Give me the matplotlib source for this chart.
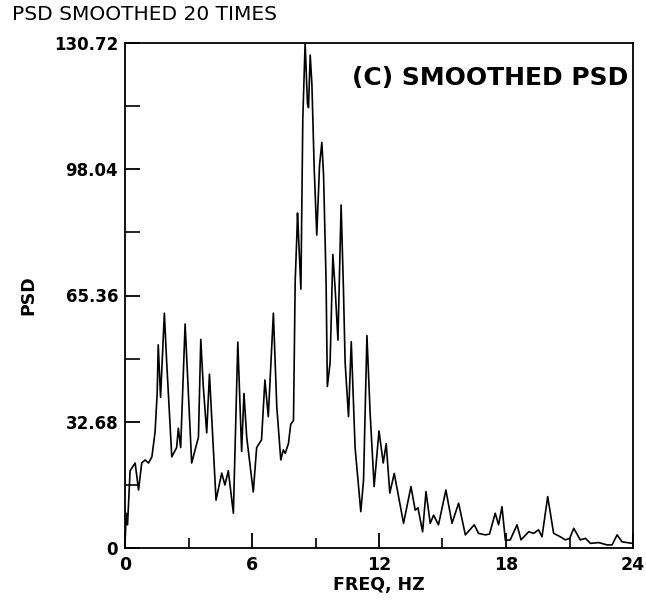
import matplotlib
matplotlib.use("Agg")
import matplotlib.pyplot as plt
from matplotlib.ticker import FixedLocator

freq_hz = [0.00, 0.06, 0.12, 0.24, 0.48, 0.64, 0.79, 0.95, 1.11, 1.27, 1.42, 1.52, 1.57,
           1.68, 1.86, 1.97, 2.21, 2.44, 2.52, 2.63, 2.84, 3.15, 3.47, 3.58, 3.70, 3.86,
           3.99, 4.30, 4.57, 4.72, 4.88, 5.12, 5.33, 5.51, 5.62, 5.75, 6.06, 6.22, 6.45,
           6.61, 6.77, 7.01, 7.17, 7.36, 7.48, 7.57, 7.72, 7.83, 7.96, 8.04, 8.12, 8.15,
           8.31, 8.40, 8.51, 8.62, 8.67, 8.75, 8.83, 8.94, 9.06, 9.19, 9.30, 9.38, 9.50,
           9.56, 9.69, 9.82, 9.93, 10.06, 10.21, 10.32, 10.40, 10.56, 10.69, 10.72, 10.87,
           11.14, 11.27, 11.43, 11.58, 11.77, 12.00, 12.20, 12.34, 12.51, 12.72, 13.16,
           13.51, 13.71, 13.84, 14.06, 14.22, 14.42, 14.58, 14.81, 15.16, 15.45, 15.76,
           16.08, 16.50, 16.70, 17.02, 17.22, 17.49, 17.65, 17.81, 17.97, 18.20, 18.52,
           18.71, 19.07, 19.31, 19.54, 19.70, 19.97, 20.25, 20.57, 20.80, 21.01, 21.20,
           21.51, 21.75, 21.99, 22.38, 22.78, 23.01, 23.25, 23.48, 23.72, 23.96, 24.00]
psd = [1.0, 9.0, 6.0, 20.0, 22.0, 15.0, 22.0, 22.8, 22.0, 23.6, 30.0, 40.0, 52.6,
       39.0, 60.8, 48.0, 23.6, 26.0, 31.0, 26.0, 58.0, 22.0, 28.7, 54.0, 41.7, 29.8,
       45.0, 12.4, 19.4, 16.3, 20.0, 9.0, 53.3, 25.0, 40.0, 28.7, 14.5, 26.0, 28.0,
       43.5, 34.0, 60.8, 36.6, 22.8, 25.4, 24.5, 27.0, 32.0, 33.0, 69.0, 81.0, 86.7,
       67.0, 111.0, 130.72, 115.0, 114.0, 127.6, 120.0, 98.0, 81.0, 99.0, 105.0, 96.6, 69.0,
       41.8, 48.0, 76.0, 67.0, 53.8, 88.8, 67.0, 48.0, 34.0, 53.4, 48.7, 26.0,
       9.4, 17.6, 55.0, 35.0, 15.9, 30.3, 22.0, 27.0, 14.2, 19.3, 6.4,
       15.9, 9.8, 10.4, 4.2, 14.6, 6.4, 8.5, 6.0, 15.0, 6.4, 11.6,
       3.4, 6.0, 3.8, 3.4, 3.6, 9.0, 6.0, 10.7, 2.0, 2.1, 6.0,
       2.1, 4.2, 3.8, 4.7, 2.9, 13.3, 3.8, 2.9, 2.1, 2.5, 5.1,
       2.1, 2.5, 1.2, 1.4, 0.8, 0.8, 3.4, 1.6, 1.4, 1.2, 1.2]

x_major = [0, 6, 12, 18, 24]
x_minor = [3, 9, 15, 21]
y_major = [0, 32.68, 65.36, 98.04, 130.72]
y_minor = [16.34, 49.02, 81.70, 114.38]
y_labels = ["0", "32.68", "65.36", "98.04", "130.72"]

plt.rcParams['font.family'] = ['DejaVu Sans']

fig = plt.figure(figsize=(6.46, 6.02), dpi=100)
ax = fig.add_axes([125/646, 54/602, 508/646, 505/602])
ax.plot(freq_hz, psd, color='black', lw=1.2)
ax.set_xlim(0, 24)
ax.set_ylim(0, 130.72)

ax.xaxis.set_major_locator(FixedLocator(x_major))
ax.xaxis.set_minor_locator(FixedLocator(x_minor))
ax.yaxis.set_major_locator(FixedLocator(y_major))
ax.yaxis.set_minor_locator(FixedLocator(y_minor))
ax.set_xticklabels([str(v) for v in x_major], fontweight='bold', fontsize=12.5)
ax.set_yticklabels(y_labels, fontweight='bold', fontsize=12)
ax.tick_params(axis='both', which='major', direction='in', length=11, width=1.3)
ax.tick_params(axis='y', which='major', pad=5)
ax.tick_params(axis='x', which='major', pad=6)
ax.tick_params(axis='x', which='minor', direction='in', length=7, width=1.2)
ax.tick_params(axis='y', which='minor', direction='in', length=11, width=1.2)
for s in ax.spines.values():
    s.set_linewidth(1.3)

ax.set_xlabel("FREQ, HZ", fontweight='bold', fontsize=12.5, labelpad=1)
ax.set_ylabel("PSD", fontweight='bold', fontsize=12.5, labelpad=12)
ax.text(0.99, 0.93, "(C) SMOOTHED PSD", transform=ax.transAxes, ha='right', va='center',
        fontweight='bold', fontsize=18)
fig.text(12/646, 1 - 15/602, "PSD SMOOTHED 20 TIMES", ha='left', va='center', fontsize=14.5)

fig.savefig("out.png", dpi=100)
